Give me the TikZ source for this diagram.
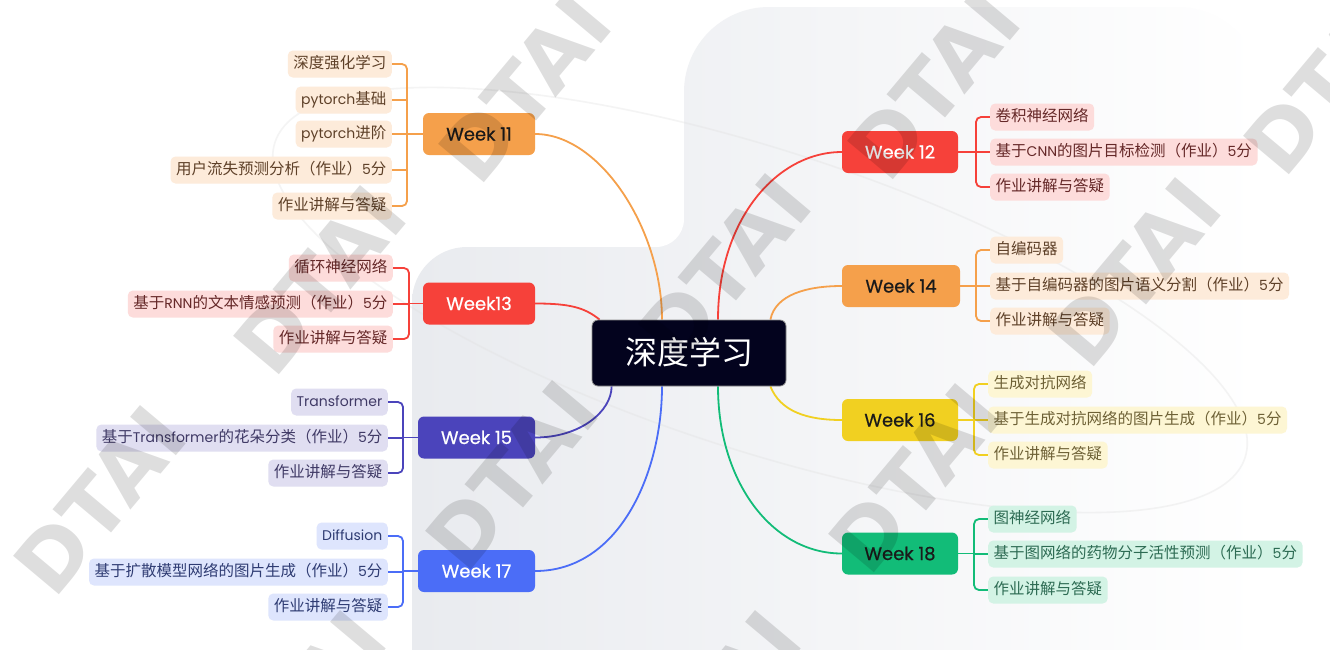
\documentclass[tikz,border=0pt]{standalone}
\usepackage{fontspec}
\setmainfont{Noto Sans CJK SC}
\newfontfamily\pop{Poppins}
\newfontfamily\popw{Poppins}[FakeBold=0.6]
\newfontfamily\wmfont{DejaVu Sans}
\newcommand{\lat}[1]{{\pop\fontsize{14}{16}\selectfont #1}}
\definecolor{cOr}{HTML}{F5A04B}
\definecolor{cRd}{HTML}{F6413A}
\definecolor{cIn}{HTML}{4B44BB}
\definecolor{cBl}{HTML}{4B6DF7}
\definecolor{cYe}{HTML}{F1D021}
\definecolor{cGr}{HTML}{12BC78}
\definecolor{fOr}{HTML}{FDEBDA}
\definecolor{fRd}{HTML}{FDDCDB}
\definecolor{fIn}{HTML}{E0DEF1}
\definecolor{fBl}{HTML}{DEE5FD}
\definecolor{fYe}{HTML}{FDF6D4}
\definecolor{fGr}{HTML}{D3F3E5}
\definecolor{tOr}{HTML}{5E4028}
\definecolor{tRd}{HTML}{652828}
\definecolor{tIn}{HTML}{403A66}
\definecolor{tBl}{HTML}{2F3C73}
\definecolor{tYe}{HTML}{6E6136}
\definecolor{tGr}{HTML}{2D6B53}
\definecolor{wkDark}{HTML}{1A1A1A}
\definecolor{cCenter}{HTML}{03031E}
\definecolor{bgA}{HTML}{E9EBEF}
\definecolor{bgB}{HTML}{EFF0F3}
\pgfdeclarelayer{bg}
\pgfdeclarelayer{lines}
\pgfdeclarelayer{fg}
\pgfsetlayers{bg,lines,main,fg}
\tikzset{
  leaf/.style={rounded corners=5pt, inner xsep=5.5pt, inner ysep=0pt, minimum height=27pt,
    text height=13pt, text depth=3.5pt, font=\fontsize{15.5}{18}\selectfont},
  lOr/.style={leaf, fill=fOr, text=tOr},
  lRd/.style={leaf, fill=fRd, text=tRd},
  lIn/.style={leaf, fill=fIn, text=tIn},
  lBl/.style={leaf, fill=fBl, text=tBl},
  lYe/.style={leaf, fill=fYe, text=tYe},
  lGr/.style={leaf, fill=fGr, text=tGr},
  wk/.style={rounded corners=6pt, minimum height=42pt, inner sep=0pt,
    text height=13pt, text depth=0pt, font=\popw\fontsize{18}{20}\selectfont},
  brOr/.style={draw=cOr, line width=1.8pt, rounded corners=5pt},
  brRd/.style={draw=cRd, line width=1.8pt, rounded corners=5pt},
  brIn/.style={draw=cIn, line width=1.8pt, rounded corners=5pt},
  brBl/.style={draw=cBl, line width=1.8pt, rounded corners=5pt},
  brYe/.style={draw=cYe, line width=1.8pt, rounded corners=5pt},
  brGr/.style={draw=cGr, line width=1.8pt, rounded corners=5pt},
  hub/.style={fill=cCenter, draw=black!45, line width=0.8pt, rounded corners=6pt,
    minimum width=194pt, minimum height=66pt, inner sep=0pt, text=white,
    text height=27pt, text depth=3.5pt, font=\fontsize{32}{36}\selectfont},
  wmark/.style={rotate=50, text=black, text opacity=0.13, inner sep=0pt,
    font=\wmfont\bfseries\fontsize{82}{82}\selectfont}
}
\begin{document}
\begin{tikzpicture}[x=1pt,y=-1pt]
\useasboundingbox (0,0) rectangle (1330,649);
% background
\begin{pgfonlayer}{bg}
  \fill[white] (0,0) rectangle (1330,649);
  \shade[left color=bgA, middle color=bgB, right color=white]
    (684,7) [rounded corners=85pt] rectangle (1262,720)
    (412,247) [rounded corners=55pt] rectangle (1262,720)
    (656,219) [sharp corners] rectangle (684,247);
  \fill[white] (656,219) circle (28);
  \draw[black!12, line width=1.6pt, opacity=0.35, rotate around={-18:(760,300)}]
    (760,300) ellipse [x radius=510, y radius=150];
\end{pgfonlayer}

% center
\node[hub] (c) at (689,353) {深度学习};

% week nodes
\node[wk, fill=cOr, text=wkDark, minimum width=112pt] (w11) at (479,134) {Week 11};
\node[wk, fill=cRd, text=white, minimum width=112pt] (w13) at (479,303.5) {Week13};
\node[wk, fill=cIn, text=white, minimum width=117pt] (w15) at (476.5,437.5) {Week 15};
\node[wk, fill=cBl, text=white, minimum width=117pt] (w17) at (476.5,571) {Week 17};
\node[wk, fill=cRd, text=white, minimum width=116pt] (w12) at (900,152) {Week 12};
\node[wk, fill=cOr, text=wkDark, minimum width=118pt] (w14) at (901,286) {Week 14};
\node[wk, fill=cYe, text=wkDark, minimum width=116pt] (w16) at (900,420) {Week 16};
\node[wk, fill=cGr, text=wkDark, minimum width=116pt] (w18) at (900,553.5) {Week 18};

% left leaves
\node[lOr, anchor=east] (l11a) at (392,64) {深度强化学习};
\node[lOr, anchor=east] (l11b) at (392,100) {\lat{pytorch}基础};
\node[lOr, anchor=east] (l11c) at (392,134) {\lat{pytorch}进阶};
\node[lOr, anchor=east] (l11d) at (392,170) {用户流失预测分析（作业）\lat{5}分};
\node[lOr, anchor=east] (l11e) at (392,206) {作业讲解与答疑};
\coordinate (b11) at (407,134);

\node[lRd, anchor=east] (l13a) at (393,268) {循环神经网络};
\node[lRd, anchor=east] (l13b) at (393,304) {基于\lat{RNN}的文本情感预测（作业）\lat{5}分};
\node[lRd, anchor=east] (l13c) at (393,339) {作业讲解与答疑};
\coordinate (b13) at (409,303.5);

\node[lIn, anchor=east] (l15a) at (388,402) {\lat{Transformer}};
\node[lIn, anchor=east] (l15b) at (388,438) {基于\lat{Transformer}的花朵分类（作业）\lat{5}分};
\node[lIn, anchor=east] (l15c) at (388,473) {作业讲解与答疑};
\coordinate (b15) at (403,437.5);

\node[lBl, anchor=east] (l17a) at (388,536) {\lat{Diffusion}};
\node[lBl, anchor=east] (l17b) at (388,572) {基于扩散模型网络的图片生成（作业）\lat{5}分};
\node[lBl, anchor=east] (l17c) at (388,607) {作业讲解与答疑};
\coordinate (b17) at (403,571);

% right leaves
\node[lRd, anchor=west] (l12a) at (990,117) {卷积神经网络};
\node[lRd, anchor=west] (l12b) at (990,152) {基于\lat{CNN}的图片目标检测（作业）\lat{5}分};
\node[lRd, anchor=west] (l12c) at (990,187) {作业讲解与答疑};
\coordinate (b12) at (976,152);

\node[lOr, anchor=west] (l14a) at (990,250) {自编码器};
\node[lOr, anchor=west] (l14b) at (990,286) {基于自编码器的图片语义分割（作业）\lat{5}分};
\node[lOr, anchor=west] (l14c) at (990,321) {作业讲解与答疑};
\coordinate (b14) at (976,286);

\node[lYe, anchor=west] (l16a) at (988,384) {生成对抗网络};
\node[lYe, anchor=west] (l16b) at (988,420) {基于生成对抗网络的图片生成（作业）\lat{5}分};
\node[lYe, anchor=west] (l16c) at (988,455) {作业讲解与答疑};
\coordinate (b16) at (974,420);

\node[lGr, anchor=west] (l18a) at (988,519) {图神经网络};
\node[lGr, anchor=west] (l18b) at (988,554) {基于图网络的药物分子活性预测（作业）\lat{5}分};
\node[lGr, anchor=west] (l18c) at (988,590) {作业讲解与答疑};
\coordinate (b18) at (974,553.5);

\begin{pgfonlayer}{lines}
  % brackets left
  \draw[brOr] (l11a.east) -| (b11) |- (l11e.east);
  \draw[brOr] (l11b.east) -- (l11b.east -| b11);
  \draw[brOr] (l11c.east) -- (l11c.east -| b11);
  \draw[brOr] (l11d.east) -- (l11d.east -| b11);
  \draw[brOr] (w11.west) -- (b11);

  \draw[brRd] (l13a.east) -| (b13) |- (l13c.east);
  \draw[brRd] (l13b.east) -- (l13b.east -| b13);
  \draw[brRd] (w13.west) -- (b13);

  \draw[brIn] (l15a.east) -| (b15) |- (l15c.east);
  \draw[brIn] (l15b.east) -- (l15b.east -| b15);
  \draw[brIn] (w15.west) -- (b15);

  \draw[brBl] (l17a.east) -| (b17) |- (l17c.east);
  \draw[brBl] (l17b.east) -- (l17b.east -| b17);
  \draw[brBl] (w17.west) -- (b17);

  % brackets right
  \draw[brRd] (l12a.west) -| (b12) |- (l12c.west);
  \draw[brRd] (l12b.west) -- (l12b.west -| b12);
  \draw[brRd] (w12.east) -- (b12);

  \draw[brOr] (l14a.west) -| (b14) |- (l14c.west);
  \draw[brOr] (l14b.west) -- (l14b.west -| b14);
  \draw[brOr] (w14.east) -- (b14);

  \draw[brYe] (l16a.west) -| (b16) |- (l16c.west);
  \draw[brYe] (l16b.west) -- (l16b.west -| b16);
  \draw[brYe] (w16.east) -- (b16);

  \draw[brGr] (l18a.west) -| (b18) |- (l18c.west);
  \draw[brGr] (l18b.west) -- (l18b.west -| b18);
  \draw[brGr] (w18.east) -- (b18);

  % main branches
  \draw[brOr] (w11.east) .. controls +(65,0) and +(0,-90) .. ([xshift=-27pt]c.north);
  \draw[brRd] (w13.east) .. controls +(35,0) and +(-15,-12) .. ([xshift=8pt]c.north west);
  \draw[brIn] (w15.east) .. controls +(45,0) and +(0,25) .. ([xshift=20pt]c.south west);
  \draw[brBl] (w17.east) .. controls +(85,0) and +(0,85) .. ([xshift=-27pt]c.south);
  \draw[brRd] ([xshift=29pt]c.north) .. controls +(0,-100) and +(-65,0) .. (w12.west);
  \draw[brOr] ([xshift=-16pt]c.north east) .. controls +(5,-25) and +(-35,0) .. (w14.west);
  \draw[brYe] ([xshift=-16pt]c.south east) .. controls +(10,25) and +(-35,0) .. (w16.west);
  \draw[brGr] ([xshift=29pt]c.south) .. controls +(0,95) and +(-70,0) .. (w18.west);
\end{pgfonlayer}

% watermarks
\begin{pgfonlayer}{fg}
  \node[wmark] (wm1) at (525,88) {DTAI};
  \node[wmark] (wm2) at (934,85) {DTAI};
  \node[wmark] (wm3) at (1330,80) {DTAI};
  \node[wmark] (wm4) at (320,280) {DTAI};
  \node[wmark] (wm5) at (725,268) {DTAI};
  \node[wmark] (wm6) at (1135,272) {DTAI};
  \node[wmark] (wm7) at (100,500) {DTAI};
  \node[wmark] (wm8) at (512,475) {DTAI};
  \node[wmark] (wm9) at (915,478) {DTAI};
  \node[wmark] (wm10) at (300,705) {DTAI};
  \node[wmark] (wm11) at (715,705) {DTAI};
\end{pgfonlayer}
\end{tikzpicture}
\end{document}
